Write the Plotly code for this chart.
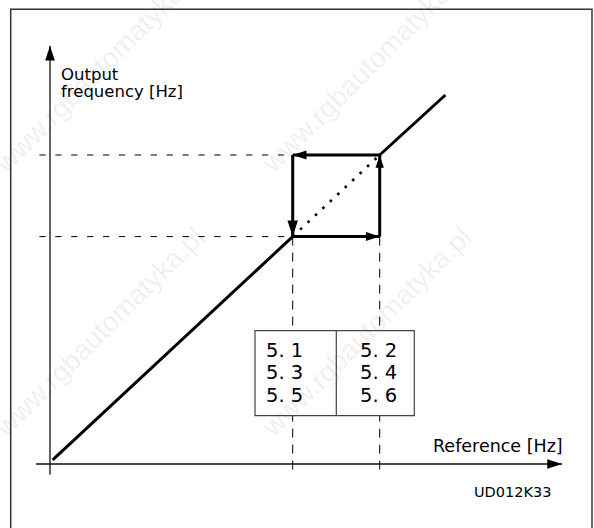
import plotly.graph_objects as go

# Hysteresis characteristic: output frequency vs. frequency reference (arbitrary Hz units)
ref_hz = [0.45, 40.45, 54.95, 65.9]   # start, lower switch point, upper switch point, end
out_hz = [0.7, 37.9, 51.5, 61.5]

# Parameter table shown under the hysteresis window
table_left = ["5. 1", "5. 3", "5. 5"]
table_right = ["5. 2", "5. 4", "5. 6"]

x_label = "Reference [Hz]"
y_label = ["Output", "frequency [Hz]"]
drawing_code = "UD012K33"
watermark = "www.rgbautomatyka.pl"

W, H = 594, 528
PX = 6.0                    # pixels per unit
ORIGIN = (50.0, 464.0)      # pixel position of the axis crossing

def ux(px):
    return (px - ORIGIN[0]) / PX

def uy(py):
    return (ORIGIN[1] - py) / PX

x_range = [ux(0), ux(W)]
y_range = [uy(H), uy(0)]

INK = "#000000"
fig = go.Figure()

def seg(xs, ys, width, dash="solid", color=INK):
    fig.add_trace(go.Scatter(x=xs, y=ys, mode="lines",
                             line=dict(color=color, width=width, dash=dash),
                             hoverinfo="skip", showlegend=False))

def head(x, y, angle, size):
    fig.add_trace(go.Scatter(x=[x], y=[y], mode="markers",
                             marker=dict(symbol="arrow", angle=angle, size=size,
                                         color=INK, line=dict(width=0)),
                             hoverinfo="skip", showlegend=False))

x0, x1, x2, x3 = ref_hz
y0, y1, y2, y3 = out_hz

# axes with arrowheads
x_axis_end, y_axis_end = ux(562), uy(45.7)
seg([ux(36), x_axis_end], [0, 0], 1.3, color="#111")
seg([0, 0], [uy(474.7), y_axis_end], 1.3, color="#111")
head(x_axis_end, 0, 90, 15.5)
head(0, y_axis_end, 0, 15.5)

# dashed guide lines to the axes
guide_dash = "6.3px,9.6px"
seg([ux(39.4), x1], [y2, y2], 1, guide_dash)
seg([ux(39.4), x1], [y1, y1], 1, guide_dash)
seg([x1, x1], [y1, uy(470.7)], 1, "9px,7px")
seg([x2, x2], [y1, uy(470.7)], 1, "9px,7px")

# characteristic line, dotted across the hysteresis window
seg([x0, x1], [y0, y1], 3)
seg([x2, x3], [y2, y3], 3)
seg([x1, x2], [y1, y2], 2.6, "2.6px,7.6px")

# hysteresis loop with direction arrows
seg([x1, x2], [y1, y1], 3)
seg([x2, x2], [y1, y2], 3)
seg([x2, x1], [y2, y2], 3)
seg([x1, x1], [y2, y1], 3)
head(x2, y1, 90, 14.5)
head(x2, y2, 0, 13.5)
head(x1, y2, 270, 14.5)
head(x1, y1, 180, 17)

shapes = []
# outer frame
shapes.append(dict(type="rect", xref="paper", yref="paper",
                   x0=10.7 / W, x1=592 / W, y0=-0.05, y1=1 - 9.3 / H,
                   line=dict(color="#333", width=1.5), fillcolor="rgba(0,0,0,0)",
                   layer="above"))
# parameter table
t_l, t_m, t_r = ux(255), ux(336.3), ux(414.3)
t_t, t_b = uy(330.7), uy(415.7)
shapes.append(dict(type="rect", x0=t_l, x1=t_r, y0=t_b, y1=t_t,
                   line=dict(color="#444", width=1.2), fillcolor="white", layer="above"))
shapes.append(dict(type="line", x0=t_m, x1=t_m, y0=t_b, y1=t_t,
                   line=dict(color="#444", width=1.2), layer="above"))

FONT = "DejaVu Sans"
ann = []

def label(text, x, y, size, xanchor="left", color=INK):
    ann.append(dict(text=text, x=x, y=y, xref="x", yref="y", showarrow=False,
                    xanchor=xanchor, yanchor="middle", borderpad=0,
                    font=dict(family=FONT, size=size, color=color)))

label(y_label[0], ux(60), uy(74.2), 16.5)
label(y_label[1], ux(60), uy(91.0), 16.5)
label(x_label, ux(564), uy(446.3), 17.5, xanchor="right")
label(drawing_code, ux(552), uy(492), 14.5, xanchor="right")

row_mid = [350.5, 372.7, 395.3]
for i, (a, b) in enumerate(zip(table_left, table_right)):
    label(a, ux(265), uy(row_mid[i]), 19.5)
    label(b, ux(358.7), uy(row_mid[i]), 19.5)

# faint diagonal watermark tiles
for cx in (99, 366, 633):
    for cy in (68, 332, 596):
        ann.append(dict(text=watermark, x=ux(cx), y=uy(cy), xref="x", yref="y",
                        showarrow=False, textangle=-45,
                        font=dict(family="Liberation Sans", size=28,
                                  color="rgba(0,0,0,0.075)")))

fig.update_layout(
    width=W, height=H, margin=dict(l=0, r=0, t=0, b=0),
    paper_bgcolor="white", plot_bgcolor="white",
    xaxis=dict(range=x_range, visible=False, fixedrange=True),
    yaxis=dict(range=y_range, visible=False, fixedrange=True),
    shapes=shapes, annotations=ann, showlegend=False, hovermode=False,
)

fig.write_html("out.html")
